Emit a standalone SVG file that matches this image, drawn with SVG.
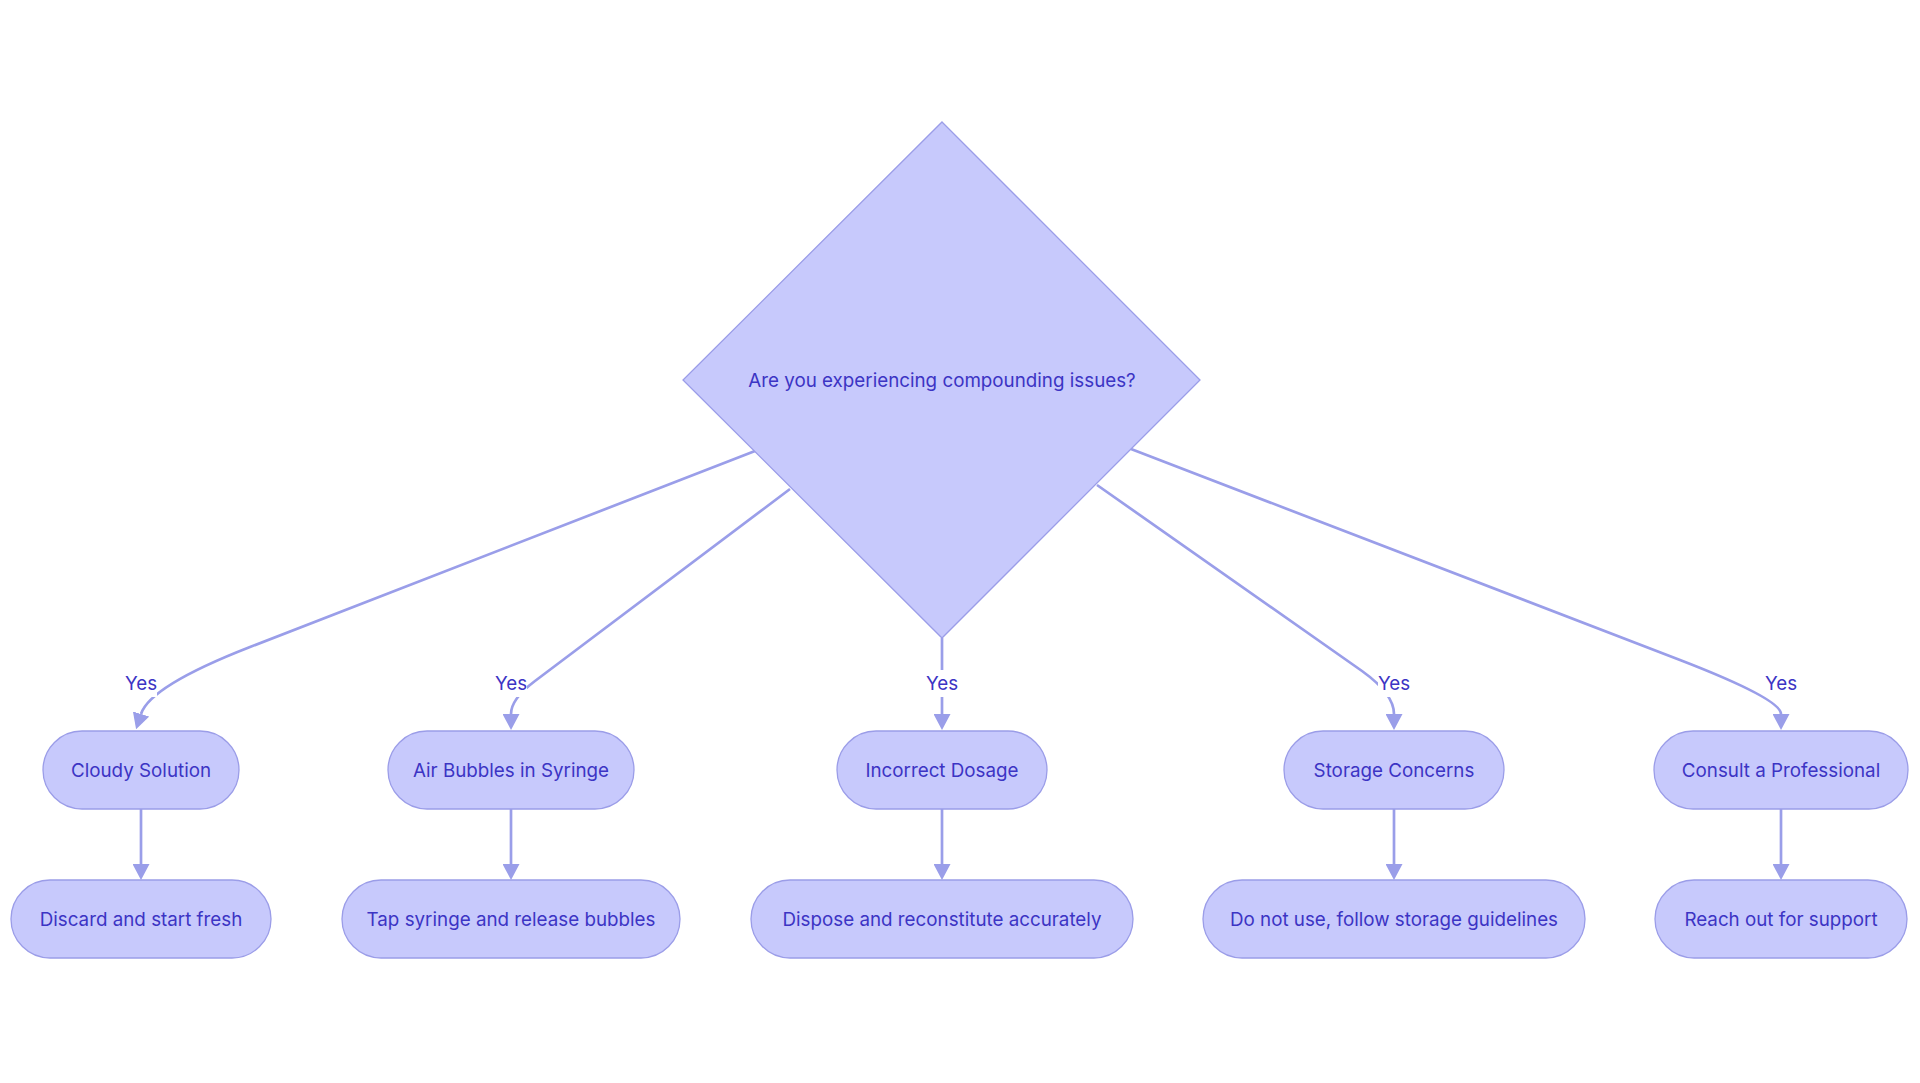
<svg xmlns="http://www.w3.org/2000/svg" width="1920" height="1083" viewBox="0 0 1920 1083">
<defs>
<style>
.node{fill:#c7c9fc;stroke:#9b9de8;stroke-width:1.3}
.lbl{font-family:"Inter","Noto Sans","Liberation Sans",sans-serif;font-size:18.8px;fill:#3c34c4;text-anchor:middle;dominant-baseline:central}
.edge{fill:none;stroke:#9a9ee9;stroke-width:2.7;marker-end:url(#arrow)}
.lblbg{fill:#ffffff}
</style>
<marker id="arrow" viewBox="0 0 16 17" refX="0" refY="8.5" markerWidth="16" markerHeight="17" markerUnits="userSpaceOnUse" orient="auto">
<path d="M0,0 L16,8.5 L0,17 z" fill="#9a9ee9"/>
</marker>
</defs>
<rect width="1920" height="1083" fill="#ffffff"/>
<g id="connectors">
<path class="edge" d="M755,451 L250,647 Q150,686 141,714"/>
<path class="edge" d="M790,489 L535,681 Q511,699 511,714"/>
<path class="edge" d="M942,638 L942,714"/>
<path class="edge" d="M1097,485 L1362,671 Q1394,694 1394,714"/>
<path class="edge" d="M1131,449 L1680,660 Q1781,699 1781,714"/>
<path class="edge" d="M141,809 L141,864"/>
<path class="edge" d="M511,809 L511,864"/>
<path class="edge" d="M942,809 L942,864"/>
<path class="edge" d="M1394,809 L1394,864"/>
<path class="edge" d="M1781,809 L1781,864"/>
<g id="edge-labels">
<rect class="lblbg" x="125" y="670" width="32" height="27"/><text class="lbl" x="141" y="683">Yes</text>
<rect class="lblbg" x="495" y="670" width="32" height="27"/><text class="lbl" x="511" y="683">Yes</text>
<rect class="lblbg" x="926" y="670" width="32" height="27"/><text class="lbl" x="942" y="683">Yes</text>
<rect class="lblbg" x="1378" y="670" width="32" height="27"/><text class="lbl" x="1394" y="683">Yes</text>
<rect class="lblbg" x="1765" y="670" width="32" height="27"/><text class="lbl" x="1781" y="683">Yes</text>
</g>
</g>
<g id="decision">
<polygon class="node" points="942,122 1200,380 942,638 683,380"/>
<text class="lbl" x="942" y="380">Are you experiencing compounding issues?</text>
</g>
<g id="cloudy">
<rect class="node" x="43" y="731" width="196" height="78" rx="39" ry="39"/>
<text class="lbl" x="141" y="770">Cloudy Solution</text>
</g>
<g id="air">
<rect class="node" x="388" y="731" width="246" height="78" rx="39" ry="39"/>
<text class="lbl" x="511" y="770">Air Bubbles in Syringe</text>
</g>
<g id="dosage">
<rect class="node" x="837" y="731" width="210" height="78" rx="39" ry="39"/>
<text class="lbl" x="942" y="770">Incorrect Dosage</text>
</g>
<g id="storage">
<rect class="node" x="1284" y="731" width="220" height="78" rx="39" ry="39"/>
<text class="lbl" x="1394" y="770">Storage Concerns</text>
</g>
<g id="consult">
<rect class="node" x="1654" y="731" width="254" height="78" rx="39" ry="39"/>
<text class="lbl" x="1781" y="770">Consult a Professional</text>
</g>
<g id="discard">
<rect class="node" x="11" y="880" width="260" height="78" rx="39" ry="39"/>
<text class="lbl" x="141" y="919">Discard and start fresh</text>
</g>
<g id="tap">
<rect class="node" x="342" y="880" width="338" height="78" rx="39" ry="39"/>
<text class="lbl" x="511" y="919">Tap syringe and release bubbles</text>
</g>
<g id="dispose">
<rect class="node" x="751" y="880" width="382" height="78" rx="39" ry="39"/>
<text class="lbl" x="942" y="919">Dispose and reconstitute accurately</text>
</g>
<g id="donotuse">
<rect class="node" x="1203" y="880" width="382" height="78" rx="39" ry="39"/>
<text class="lbl" x="1394" y="919">Do not use, follow storage guidelines</text>
</g>
<g id="reach">
<rect class="node" x="1655" y="880" width="252" height="78" rx="39" ry="39"/>
<text class="lbl" x="1781" y="919">Reach out for support</text>
</g>
</svg>
